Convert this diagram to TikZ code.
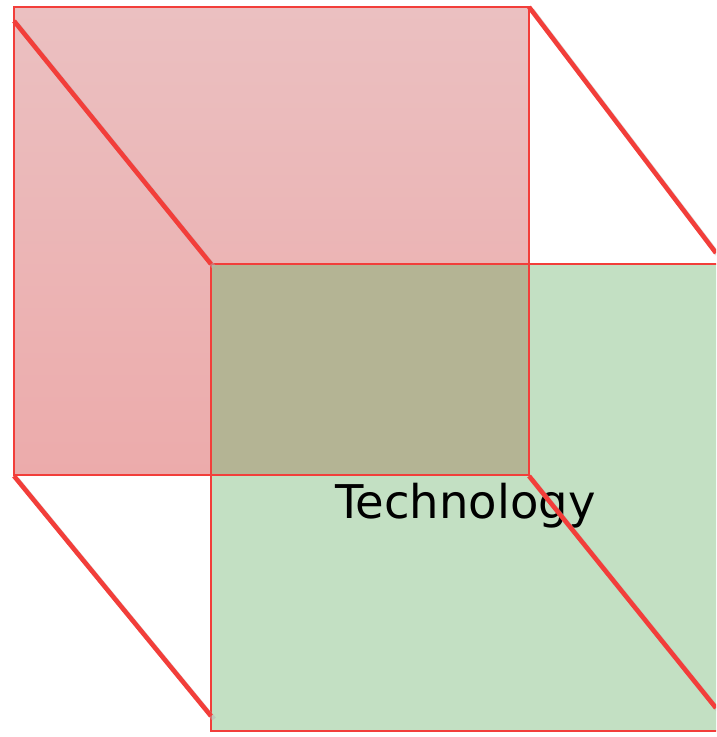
\documentclass[tikz,border=0pt]{standalone}
\usepackage{fontspec}
\newfontfamily\labelfont{DejaVu Sans}
\definecolor{redfilltop}{RGB}{235,192,193}
\definecolor{redfillbot}{RGB}{236,171,171}
\definecolor{greenfill}{RGB}{195,224,195}
\definecolor{overlapfill}{RGB}{180,180,148}
\definecolor{edgered}{RGB}{242,62,58}
\tikzset{
  thinedge/.style={draw=edgered, line width=1.1pt},
  diag/.style={draw=edgered, line width=4.6pt},
  diagshadow/.style={draw=black!30, line width=4.6pt, opacity=0.45},
  lbl/.style={font=\labelfont\fontsize{46.5}{56}\selectfont, text=black, inner sep=0pt, anchor=base}
}
\begin{document}
\begin{tikzpicture}[x=1pt,y=-1pt]
\useasboundingbox (0,0) rectangle (716,737);
\clip (0,0) rectangle (716,737);
% corners
\coordinate (rTL) at (14,7);
\coordinate (rBR) at (529,475);
\coordinate (gTL) at (211,264);
\coordinate (gBR) at (726,731);
% diagonal ends
\coordinate (dTLa) at (14,21);
\coordinate (dTLb) at (211,264);
\coordinate (dTRa) at (529,7);
\coordinate (dTRb) at (716,253);
\coordinate (dBLa) at (14,476);
\coordinate (dBLb) at (211,716);
\coordinate (dBRa) at (529,476);
\coordinate (dBRb) at (716,708);
% fills
\shade[top color=redfilltop, bottom color=redfillbot] (rTL) rectangle (rBR);
\fill[greenfill] (gTL) rectangle (gBR);
\fill[overlapfill] (211,264) rectangle (529,475);
% outlines
\draw[thinedge] (rTL) rectangle (rBR);
\draw[thinedge] (gTL) rectangle (gBR);
% label
\node[lbl] (tech) at (465.5,518) {Technology};
% shadows
\draw[diagshadow] ([shift={(3,3)}]dTLa) -- ([shift={(3,3)}]dTLb);
\draw[diagshadow] ([shift={(3,3)}]dTRa) -- ([shift={(3,3)}]dTRb);
\draw[diagshadow] ([shift={(3,3)}]dBLa) -- ([shift={(3,3)}]dBLb);
\draw[diagshadow] ([shift={(3,3)}]dBRa) -- ([shift={(3,3)}]dBRb);
% diagonals
\draw[diag] (dTLa) -- (dTLb);
\draw[diag] (dTRa) -- (dTRb);
\draw[diag] (dBLa) -- (dBLb);
\draw[diag] (dBRa) -- (dBRb);
\end{tikzpicture}
\end{document}
